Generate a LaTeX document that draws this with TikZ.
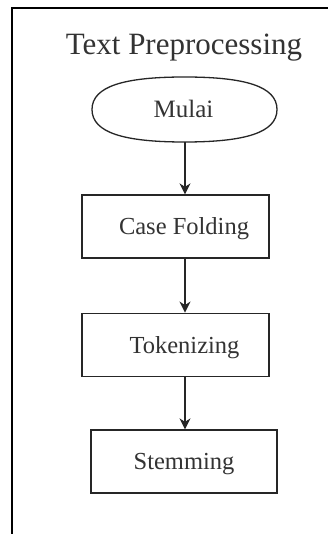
\documentclass[tikz,border=0pt]{standalone}
\usepackage{fontspec}
\setmainfont{Liberation Serif}
\usetikzlibrary{arrows.meta}
\tikzset{
  ink/.style={draw=black!85},
  label text/.style={text=black!80, text height=16.6pt, text depth=0pt},
  stepbox/.style={ink, line width=1.3pt, rectangle, minimum width=187pt,
    minimum height=63pt, inner sep=0pt, label text,
    font=\fontsize{24.5}{28}\selectfont},
  flow/.style={ink, line width=1.3pt, -{Stealth[length=11pt,width=11pt,inset=3.5pt]}},
  frameline/.style={draw=black, line width=2pt},
}
\begin{document}
\begin{tikzpicture}[x=1pt,y=-1pt]
  \useasboundingbox (0,0) rectangle (328,534);
  \fill[white] (0,0) rectangle (328,534);

  % outer frame (top and left edges)
  \draw[frameline] (12,534) -- (12,8) -- (328,8);

  % title
  \node[anchor=base, text=black!80, font=\fontsize{31}{36}\selectfont]
    (title) at (184,55) {Text Preprocessing};

  % start terminator
  \draw[ink, line width=1.3pt]
    (92,109.5) .. controls (92,86) and (125,77) .. (184.5,77)
    .. controls (244,77) and (277,86) .. (277,109.5)
    .. controls (277,133) and (244,142) .. (184.5,142)
    .. controls (125,142) and (92,133) .. (92,109.5) -- cycle;
  \node[inner sep=0pt, minimum width=185pt, minimum height=65pt,
        label text, font=\fontsize{25}{28}\selectfont]
    (mulai) at (184.5,109.5) {Mulai\hspace*{2pt}};

  % process steps
  \node[stepbox] (case) at (175.5,226.5) {\hspace*{17pt}Case Folding};
  \node[stepbox] (tok)  at (175.5,344.7) {\hspace*{18pt}Tokenizing};
  \node[stepbox, minimum width=186pt] (stem) at (184,461.5) {Stemming};

  % vertical spine that the arrows follow
  \coordinate (spine) at (185,0);

  \draw[flow] (mulai.south -| spine) -- (case.north -| spine);
  \draw[flow] (case.south -| spine) -- (tok.north -| spine);
  \draw[flow] (tok.south -| spine) -- (stem.north -| spine);
\end{tikzpicture}
\end{document}
